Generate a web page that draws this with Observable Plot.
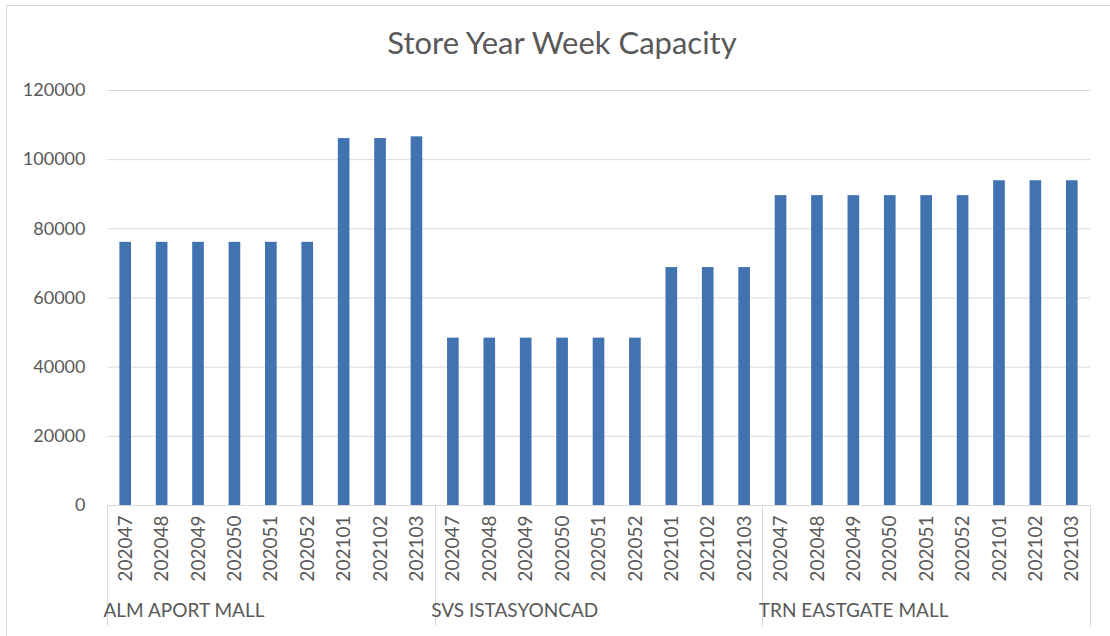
<!DOCTYPE html>
<html><head><meta charset="utf-8">
<script src="https://cdn.jsdelivr.net/npm/d3@7"></script>
<script src="https://cdn.jsdelivr.net/npm/@observablehq/plot@0.6"></script>
<style>
body{margin:0;background:#fff;width:1110px;height:636px;overflow:hidden;position:relative;font-family:Lato,sans-serif}
#frame{position:absolute;left:6px;top:5px;width:1110px;height:700px;border-left:1px solid #d9d9d9;border-top:1px solid #d9d9d9}
#title{height:66px;box-sizing:border-box;padding-top:9px;text-align:center;font-size:31px;color:#595959;line-height:54px}
</style></head>
<body><div id="frame"><div id="title">Store Year Week Capacity</div><div id="chart"></div></div>
<script>
const stores = ["ALM APORT MALL", "SVS ISTASYONCAD", "TRN EASTGATE MALL"];
const weeks = ["202047", "202048", "202049", "202050", "202051", "202052", "202101", "202102", "202103"];
const almCapacity = [76100, 76100, 76100, 76100, 76100, 76100, 106100, 106100, 106600];
const svsCapacity = [48400, 48400, 48400, 48400, 48400, 48400, 68800, 68800, 68800];
const trnCapacity = [89600, 89600, 89600, 89600, 89600, 89600, 93900, 93900, 93900];
const yTicks = [0, 20000, 40000, 60000, 80000, 100000, 120000];

const series = [almCapacity, svsCapacity, trnCapacity];
const data = [];
stores.forEach((s, i) => weeks.forEach((w, j) => data.push({store: s, week: w, key: s + "|" + w, capacity: series[i][j]})));
const keys = data.map(d => d.key);

const W = 1110, H = 564, ML = 100, MR = 27, MT = 18, MB = 131;
const step = (W - ML - MR) / keys.length;

const separators = (index, scales, values, dims) => {
  const x = scales.x;
  const st = x.step(), bw = x.bandwidth();
  const g = d3.create("svg:g").attr("stroke", "#d9d9d9").attr("stroke-width", 1);
  const xs = stores.map(s => x(s + "|" + weeks[0]) - (st - bw) / 2);
  xs.push(x(stores[stores.length - 1] + "|" + weeks[weeks.length - 1]) + bw + (st - bw) / 2);
  const y0 = dims.height - dims.marginBottom;
  for (const v of xs) g.append("line").attr("x1", Math.round(v) + 0.5).attr("x2", Math.round(v) + 0.5).attr("y1", y0).attr("y2", y0 + 121);
  return g.node();
};

const plot = Plot.plot({
  width: W, height: H,
  marginLeft: ML, marginRight: MR, marginTop: MT, marginBottom: MB,
  style: {fontFamily: "Lato, sans-serif", fontSize: "19px", color: "#595959", background: "transparent", overflow: "visible"},
  x: {type: "band", domain: keys, paddingInner: 0.68, paddingOuter: 0.34, round: false, axis: null},
  y: {domain: [0, 120000], axis: null},
  marks: [
    Plot.gridY(yTicks, {stroke: "#d9d9d9", strokeOpacity: 1, strokeWidth: 1}),
    Plot.barY(data, {x: "key", y: "capacity", fill: "#4273b1"}),
    Plot.axisY(yTicks, {tickSize: 0, tickPadding: 22, tickFormat: d => String(d), label: null, fill: "#595959", fontSize: 18}),
    Plot.axisX({tickSize: 0, tickRotate: -90, tickPadding: 10, tickFormat: k => k.split("|")[1], label: null, fill: "#595959", fontSize: 19}),
    separators,
    Plot.text(stores, {x: s => s + "|" + weeks[0], frameAnchor: "bottom", dy: 111, dx: -step / 2 - 4, textAnchor: "start", fill: "#595959", fontSize: 19})
  ]
});
document.getElementById("chart").appendChild(plot);
</script>
</body></html>
